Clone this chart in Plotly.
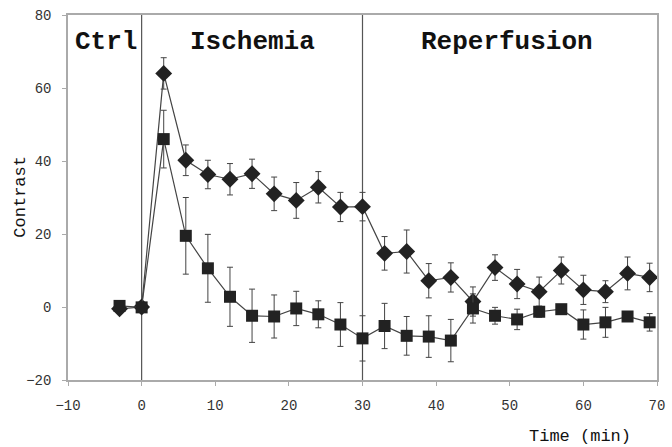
import plotly.graph_objects as go

time = [-3, 0, 3, 6, 9, 12, 15, 18, 21, 24, 27, 30, 33, 36, 39, 42, 45, 48, 51, 54, 57, 60, 63, 66, 69]

diamond_vals = [-0.5, 0, 64, 40.2, 36.3, 35, 36.5, 31, 29.2, 32.8, 27.4, 27.5, 14.7, 15.2, 7.2, 8.1, 1.5,
                10.8, 6.3, 4.2, 10.0, 4.7, 4.2, 9.2, 8.1]
diamond_err = [0, 0, 4.3, 4.2, 3.9, 4.3, 4.0, 4.6, 4.9, 4.3, 4.0, 3.9, 4.6, 5.9, 4.7, 4.0, 4.0,
               3.5, 4.0, 4.0, 3.7, 4.0, 3.0, 4.5, 3.9]

square_vals = [0.3, -0.1, 46, 19.5, 10.6, 2.8, -2.4, -2.6, -0.4, -2.0, -4.8, -8.6, -5.2, -7.9, -8.1, -9.2, -0.4,
               -2.4, -3.4, -1.3, -0.6, -4.8, -4.2, -2.6, -4.2]
square_err = [0, 0, 7.9, 10.5, 9.3, 8.1, 7.3, 5.9, 4.7, 3.7, 6.0, 6.2, 6.2, 5.3, 5.7, 5.8, 4.0,
              2.3, 2.8, 1.5, 1.0, 4.0, 4.1, 1.0, 2.4]

phase_labels = ["Ctrl", "Ischemia", "Reperfusion"]
phase_centers = [-4.9, 15, 49.6]
phase_bounds = [0, 30]

x_ticks = [-10, 0, 10, 20, 30, 40, 50, 60, 70]
y_ticks = [-20, 0, 20, 40, 60, 80]

mono = "Liberation Mono, Courier New, monospace"

fig = go.Figure()

for b in phase_bounds:
    fig.add_shape(type="line", x0=b, x1=b, y0=-20, y1=80, xref="x", yref="y",
                  line=dict(color="#555555", width=1.2), layer="below")

fig.add_trace(go.Scatter(
    x=time, y=diamond_vals, mode="lines+markers",
    line=dict(color="#444444", width=1.2),
    marker=dict(symbol="diamond", size=13, color="#222222"),
    error_y=dict(type="data", array=diamond_err, color="#444444", thickness=1, width=3),
    showlegend=False))

fig.add_trace(go.Scatter(
    x=time, y=square_vals, mode="lines+markers",
    line=dict(color="#444444", width=1.2),
    marker=dict(symbol="square", size=12, color="#222222"),
    error_y=dict(type="data", array=square_err, color="#444444", thickness=1, width=3),
    showlegend=False))

for lab, cx in zip(phase_labels, phase_centers):
    fig.add_annotation(x=cx, y=72.6, xref="x", yref="y", text="<b>" + lab + "</b>",
                       showarrow=False, font=dict(family=mono, size=26, color="#111111"))

# pixel positions (converted to paper coordinates below)
fig.add_annotation(x=587, y=437, xref="paper", yref="paper", text="Time (min)", showarrow=False,
                   xanchor="center", yanchor="middle",
                   font=dict(family=mono, size=17, color="#111111"))
fig.add_annotation(x=20, y=197, xref="paper", yref="paper", text="Contrast", showarrow=False,
                   xanchor="center", yanchor="middle", textangle=-90,
                   font=dict(family=mono, size=17, color="#111111"))

fig.update_xaxes(range=[-10, 70], tickvals=x_ticks, showgrid=False, zeroline=False,
                 showline=True, linecolor="#aaaaaa", linewidth=1.5, mirror=True,
                 ticks="outside", ticklen=4, tickcolor="#aaaaaa", ticklabelstandoff=7,
                 tickfont=dict(family=mono, size=14, color="#333333"))
fig.update_yaxes(range=[-20, 80], tickvals=y_ticks, showgrid=False, zeroline=False,
                 showline=True, linecolor="#aaaaaa", linewidth=1.5, mirror=True,
                 ticks="outside", ticklen=4, tickcolor="#aaaaaa", ticklabelstandoff=8,
                 tickfont=dict(family=mono, size=14, color="#333333"))

fig.update_layout(width=672, height=447, margin=dict(l=68, r=7, t=15, b=67),
                  plot_bgcolor="white", paper_bgcolor="white")

plot_w = 672 - 68 - 7
plot_h = 447 - 15 - 67
for ann in fig.layout.annotations:
    if ann.xref == "paper":
        ann.x = (ann.x - 68) / plot_w
        ann.y = (447 - 67 - ann.y) / plot_h

fig.write_html("out.html")
